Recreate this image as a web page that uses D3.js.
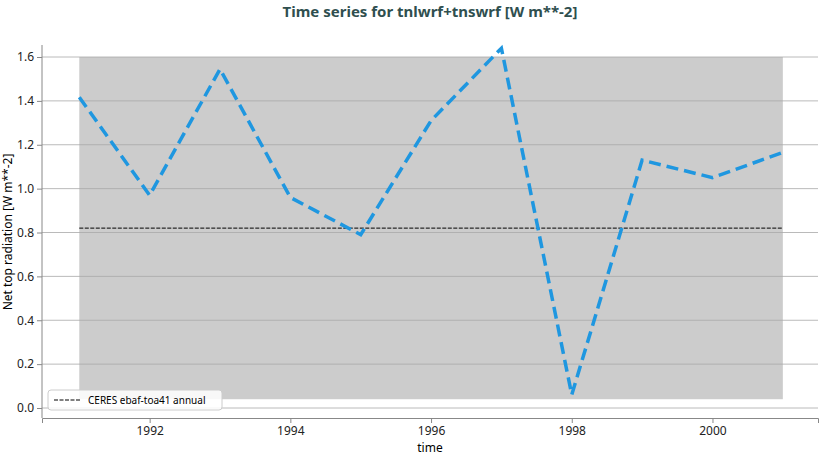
<!DOCTYPE html>
<html><head><meta charset="utf-8">
<script src="https://cdn.jsdelivr.net/npm/d3@7"></script>
<style>body{margin:0;background:#fff}text{font-family:"Noto Sans",sans-serif}</style>
</head><body><div id="chart"></div>
<script>
const years = [1991,1992,1993,1994,1995,1996,1997,1998,1999,2000,2001];
const netTop = [1.417,0.97,1.545,0.96,0.79,1.31,1.64,0.06,1.13,1.05,1.165];
const ceres = 0.82;
const band = [0.04, 1.6];
const yTicks = [0,0.2,0.4,0.6,0.8,1.0,1.2,1.4,1.6];
const xTicks = [1992,1994,1996,1998,2000];

const W = 820, H = 457;
const svg = d3.select("#chart").append("svg").attr("width", W).attr("height", H);
const x = d3.scaleLinear().domain([1990.47, 2001.5]).range([42, 818]);
const y = d3.scaleLinear().domain([0, 1.6]).range([408, 57]);

svg.append("rect").attr("x", x(1991)).attr("width", x(2001) - x(1991))
  .attr("y", y(band[1])).attr("height", y(band[0]) - y(band[1])).attr("fill", "#cccccc");

svg.append("g").selectAll("line").data(yTicks).enter().append("line")
  .attr("x1", 42).attr("x2", 818).attr("y1", d => y(d)).attr("y2", d => y(d))
  .attr("stroke", "#a8a8a8").attr("stroke-width", 0.8);

svg.append("g").attr("transform", "translate(0,418)")
  .call(d3.axisBottom(x).tickValues(xTicks).tickFormat(d3.format("d")).tickSize(5))
  .call(g => g.select(".domain").attr("stroke", "#888"))
  .call(g => g.selectAll(".tick line").attr("stroke", "#888"))
  .call(g => g.selectAll("text").attr("font-size", 12).attr("fill", "#222"));
svg.append("g").attr("transform", "translate(42,0)")
  .call(d3.axisLeft(y).tickValues(yTicks).tickFormat(d3.format(".1f")).tickSize(5))
  .call(g => g.select(".domain").attr("d", "M0,45V418").attr("stroke", "#888"))
  .call(g => g.selectAll(".tick line").attr("stroke", "#888"))
  .call(g => g.selectAll("text").attr("font-size", 12).attr("fill", "#222"));

svg.append("line").attr("x1", x(1991)).attr("x2", x(2001))
  .attr("y1", y(ceres)).attr("y2", y(ceres))
  .attr("stroke", "#000").attr("stroke-width", 1).attr("stroke-dasharray", "4,1.5");

const line = d3.line().x((d, i) => x(years[i])).y(d => y(d));
svg.append("path").datum(netTop).attr("d", line).attr("fill", "none")
  .attr("stroke", "#1f97e0").attr("stroke-width", 3.5).attr("stroke-dasharray", "12,6");

svg.append("text").attr("x", 430).attr("y", 17).attr("text-anchor", "middle")
  .attr("font-size", 15).attr("font-weight", "bold").attr("fill", "#2f4f4f")
  .text("Time series for tnlwrf+tnswrf [W m**-2]");
svg.append("text").attr("x", 430).attr("y", 452).attr("text-anchor", "middle")
  .attr("font-size", 12).text("time");
svg.append("text").attr("transform", "translate(12,232) rotate(-90)").attr("text-anchor", "middle")
  .attr("font-size", 12).text("Net top radiation [W m**-2]");

const lg = svg.append("g").attr("transform", "translate(48,390)");
lg.append("rect").attr("width", 174).attr("height", 20).attr("rx", 3)
  .attr("fill", "#fff").attr("fill-opacity", 0.85).attr("stroke", "#ccc");
lg.append("line").attr("x1", 6).attr("x2", 32).attr("y1", 10).attr("y2", 10)
  .attr("stroke", "#000").attr("stroke-dasharray", "4,1.5");
lg.append("text").attr("x", 40).attr("y", 14).attr("font-size", 10).text("CERES ebaf-toa41 annual");
</script></body></html>
